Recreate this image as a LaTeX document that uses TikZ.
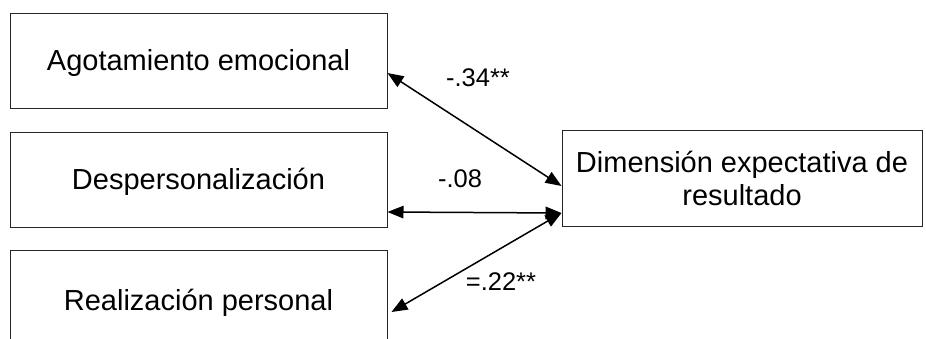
\documentclass[tikz,border=0pt]{standalone}
\usepackage{fontspec}
\setmainfont{Liberation Sans}
\usetikzlibrary{arrows.meta}
\begin{document}
\begin{tikzpicture}[x=1pt,y=-1pt,
  box/.style={draw=black!85, line width=1pt, rectangle, inner sep=0pt,
    align=center, font=\fontsize{29}{33}\selectfont},
  link/.style={line width=1.5pt,
    {Triangle[length=16pt,width=12.5pt]}-{Triangle[length=16pt,width=12.5pt]}},
  coef/.style={font=\fontsize{25.5}{30}\selectfont, inner sep=0pt}]
\useasboundingbox (0,0) rectangle (926,338);

% burnout dimensions
\node[box, minimum width=377pt, minimum height=95pt, text depth=2pt] (ae) at (198.5,60.5) {Agotamiento emocional};
\node[box, minimum width=377pt, minimum height=95pt, text depth=2pt] (dp) at (198.5,179.5) {Despersonalización};
\node[box, minimum width=377pt, minimum height=102pt, text depth=2pt] (rp) at (198.5,301) {Realización personal};

% outcome expectancy
\node[box, minimum width=360pt, minimum height=96pt] (de) at (742,178) {Dimensión expectativa de\\resultado};

% correlations
\draw[link] ([yshift=-12.5pt]ae.east) -- ([yshift=-8pt]de.west);
\draw[link] ([yshift=-32.5pt]dp.east) -- ([yshift=-35pt]de.west);
\draw[link] ([yshift=-35pt]de.west) -- ([xshift=4pt,yshift=-11pt]rp.east);

\node[coef] (c1) at (478,78) {-.34**};
\node[coef] (c2) at (460,179) {-.08};
\node[coef] (c3) at (501,282) {=.22**};
\end{tikzpicture}
\end{document}
